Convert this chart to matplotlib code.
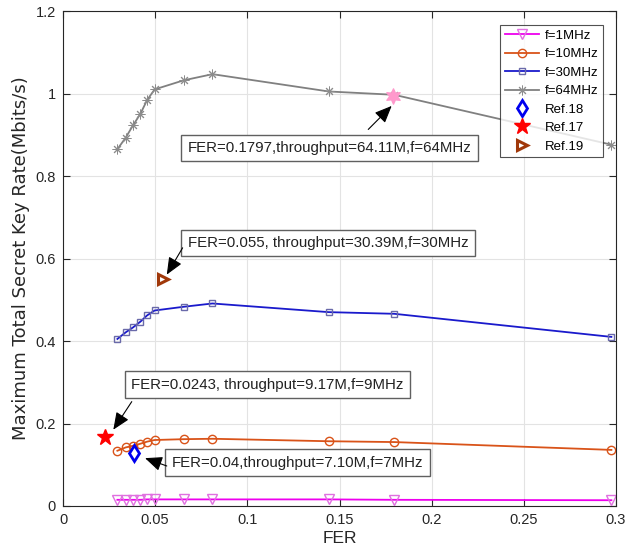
import matplotlib
matplotlib.use("Agg")
import matplotlib.pyplot as plt

plt.rcParams['font.family'] = ['Liberation Sans', 'DejaVu Sans']

fer = [0.0295, 0.034, 0.038, 0.042, 0.0456, 0.0497, 0.0654, 0.0811, 0.1442, 0.1797, 0.2975]
rate_1 = [0.015, 0.015, 0.015, 0.015, 0.016, 0.016, 0.016, 0.016, 0.016, 0.015, 0.014]
rate_10 = [0.134, 0.142, 0.146, 0.151, 0.156, 0.160, 0.162, 0.163, 0.157, 0.155, 0.136]
rate_30 = [0.405, 0.421, 0.433, 0.447, 0.462, 0.474, 0.483, 0.491, 0.470, 0.466, 0.410]
rate_64 = [0.865, 0.893, 0.923, 0.951, 0.984, 1.010, 1.032, 1.047, 1.005, 0.997, 0.876]

ref18 = (0.0387, 0.129)
ref17 = (0.0228, 0.167)
ref19 = (0.0543, 0.550)
pick64 = (0.1792, 0.995)

ann_texts = ["FER=0.1797,throughput=64.11M,f=64MHz",
             "FER=0.055, throughput=30.39M,f=30MHz",
             "FER=0.0243, throughput=9.17M,f=9MHz",
             "FER=0.04,throughput=7.10M,f=7MHz"]
ann_centers = [(0.1446, 0.868), (0.1438, 0.638), (0.1110, 0.294), (0.1272, 0.105)]
arrow_tails = [(0.1656, 0.913), (0.0649, 0.626), (0.0373, 0.253), (0.0563, 0.097)]
arrow_heads = [(0.1783, 0.970), (0.0563, 0.561), (0.0273, 0.185), (0.0445, 0.116)]

fig = plt.figure(figsize=(6.25, 5.53), dpi=100)
ax = fig.add_axes([0.1008, 0.085, 0.8848, 0.895])

ax.plot(fer, rate_1, color='#ee00ee', lw=1.3, marker='v', ms=6.5, mfc='none',
        mec='#e070e0', mew=1.0, label='f=1MHz')
ax.plot(fer, rate_10, color='#d95319', lw=1.3, marker='o', ms=6, mfc='none',
        mec='#d95319', mew=1.0, label='f=10MHz')
ax.plot(fer, rate_30, color='#1a1acc', lw=1.3, marker='s', ms=5, mfc='none',
        mec='#6a6aaa', mew=1.0, label='f=30MHz')
ax.plot(fer, rate_64, color='#808080', lw=1.3, marker=(8, 2, 0), ms=7, mfc='none',
        mec='#8c8c8c', mew=0.7, label='f=64MHz')
ax.plot([ref18[0]], [ref18[1]], ls='none', marker='d', ms=8, mfc='white',
        mec='#0000ee', mew=2.0, label='Ref.18')
ax.plot([ref17[0]], [ref17[1]], ls='none', marker='*', ms=12, color='#ff0000',
        label='Ref.17')
ax.plot([ref19[0]], [ref19[1]], ls='none', marker='>', ms=7.5, mfc='white',
        mec='#a0380a', mew=2.2, label='Ref.19')
ax.scatter([pick64[0]], [pick64[1]], marker=(6, 1, 0), s=120, color='#ff99cc',
           zorder=5)

bbox = dict(boxstyle='square,pad=0.42', fc='white', ec='#606060', lw=1.0)
arrow = dict(arrowstyle='-|>,head_length=0.75,head_width=0.32', color='black',
             lw=0.8, mutation_scale=14, shrinkA=0, shrinkB=0)
for txt, c in zip(ann_texts, ann_centers):
    ax.text(c[0], c[1], txt, fontsize=10.8, bbox=bbox, va='center', ha='center',
            color='#222222', zorder=6)
for t, h in zip(arrow_tails, arrow_heads):
    ax.annotate('', xy=h, xytext=t, arrowprops=arrow, zorder=6)

ax.set_xlim(0, 0.3)
ax.set_ylim(0, 1.2)
ax.set_xticks([0, 0.05, 0.1, 0.15, 0.2, 0.25, 0.3])
ax.set_xticklabels(['0', '0.05', '0.1', '0.15', '0.2', '0.25', '0.3'])
ax.set_yticks([0, 0.2, 0.4, 0.6, 0.8, 1.0, 1.2])
ax.set_yticklabels(['0', '0.2', '0.4', '0.6', '0.8', '1', '1.2'])
ax.grid(True, color='#e3e3e3', lw=0.8)
ax.set_axisbelow(True)
ax.tick_params(direction='in', top=True, right=True, labelsize=10.5,
               colors='#262626', length=5, pad=5)
for s in ax.spines.values():
    s.set_color('#262626')
    s.set_linewidth(0.8)
ax.set_xlabel('FER', fontsize=12.5, color='#262626', labelpad=3)
ax.set_ylabel('Maximum Total Secret Key Rate(Mbits/s)', fontsize=13,
              color='#262626', family=['DejaVu Sans'], labelpad=4)

leg = ax.legend(loc='upper right', bbox_to_anchor=(0.9765, 0.9717), fontsize=9.5,
                frameon=True, fancybox=False, edgecolor='#262626',
                handlelength=2.6, borderpad=0.35, labelspacing=0.47,
                handletextpad=0.4, borderaxespad=0)
leg.get_frame().set_linewidth(0.8)

fig.savefig('out.png', dpi=100)
